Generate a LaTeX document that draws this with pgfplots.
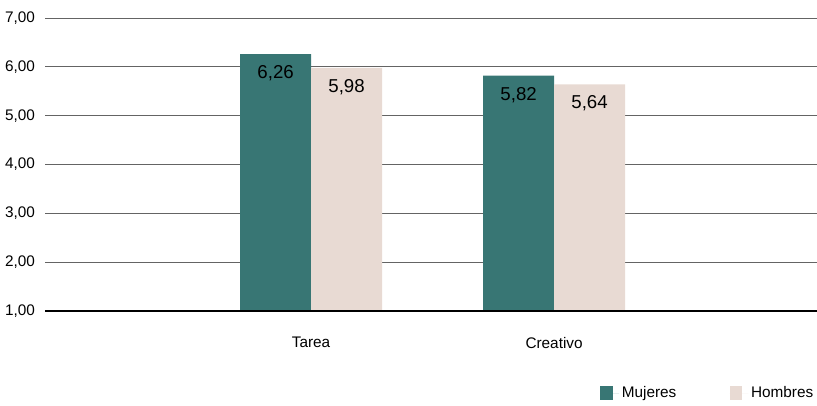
\documentclass[border=0pt]{standalone}
\usepackage{pgfplots}
\pgfplotsset{compat=1.18}
\usepackage{fontspec}
\setmainfont{Liberation Sans}
\definecolor{teal1}{RGB}{56,118,116}
\definecolor{beige1}{RGB}{232,218,211}
\definecolor{gridc}{RGB}{100,100,100}
\begin{document}
\begin{tikzpicture}[x=0.75pt,y=0.75pt]
\begin{axis}[
  name=ax,
  at={(0,0)}, anchor=south west,
  scale only axis, width=579pt, height=219.75pt,
  ybar=0pt, bar width=0.292,
  xmin=-1.095, xmax=2.082,
  ymin=1, ymax=7,
  ytick={1,2,3,4,5,6,7},
  xtick={0,1}, xticklabels={Tarea,Creativo},
  axis line style={draw=none},
  major tick length=0pt,
  ymajorgrids, grid style={gridc, line width=0.75pt},
  yticklabel={\pgfmathprintnumber[fixed,fixed zerofill,precision=2,use comma]{\tick}},
  yticklabel style={font=\fontsize{11.5}{13}\selectfont, xshift=-4pt},
  xticklabel style={font=\fontsize{11.5}{13}\selectfont, yshift=-16pt},
  /pgf/number format/assume math mode=true,
  nodes near coords={\pgfmathprintnumber[fixed,fixed zerofill,precision=2,use comma]{\pgfplotspointmeta}},
  nodes near coords style={font=\fontsize{14}{16}\selectfont, anchor=north, yshift=-5pt, color=black},
  legend style={at={(0.714,-0.28)}, anchor=west, draw=none, fill=none,
    legend columns=2, font=\fontsize{11.5}{13}\selectfont,
    /tikz/every even column/.append style={column sep=38pt}},
  legend image code/.code={\fill[#1] (0pt,-5.5pt) rectangle (9.5pt,5.5pt); \path (0pt,0pt) -- (14pt,0pt);},
  clip=false,
]
\addplot[fill=teal1, draw=none] coordinates {(0,6.26) (1,5.82)};
\addplot[fill=beige1, draw=none] coordinates {(0,5.98) (1,5.64)};
\draw[black, line width=2pt] (axis cs:-1.095,1) -- (axis cs:2.082,1);
\legend{Mujeres,Hombres}
\end{axis}
\pgfresetboundingbox
\path[use as bounding box] (-45,-94) rectangle (772,311);
\end{tikzpicture}
\end{document}
